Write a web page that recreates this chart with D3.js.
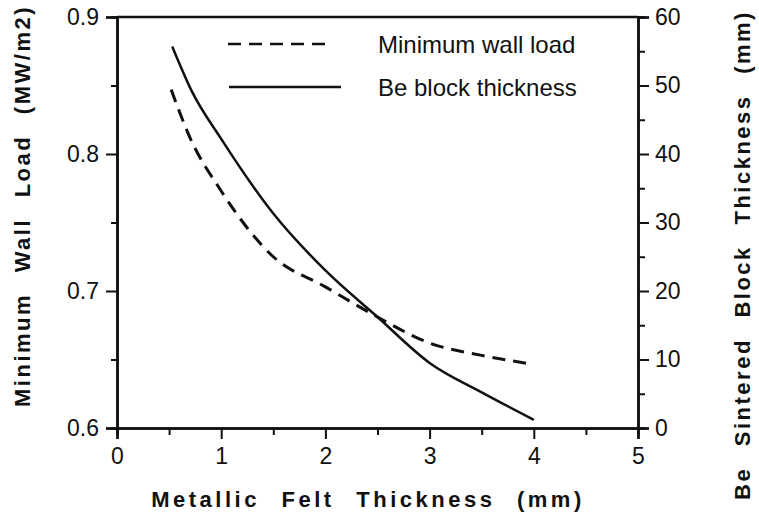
<!DOCTYPE html>
<html>
<head>
<meta charset="utf-8">
<script src="https://cdn.jsdelivr.net/npm/d3@7"></script>
<style>
  body { margin: 0; background: #fff; }
  text { font-family: "Liberation Sans", Arial, Helvetica, sans-serif; fill: #111; }
</style>
</head>
<body>
<div id="chart"></div>
<script>
// felt thickness (mm) vs. minimum wall load (MW/m2), left axis
const feltLoad = [0.52, 0.7, 1.0, 1.5, 2.0, 2.5, 3.0, 3.5, 3.95];
const wallLoad = [0.847, 0.812, 0.773, 0.725, 0.703, 0.681, 0.662, 0.653, 0.647];

// felt thickness (mm) vs. Be block thickness (mm), right axis
const feltBe = [0.53, 0.72, 1.0, 1.5, 2.0, 2.5, 3.0, 3.5, 4.0];
const beThick = [55.7, 49.1, 42.2, 31.3, 23.0, 16.2, 9.5, 5.2, 1.2];

const xTicks = [0, 1, 2, 3, 4, 5];
const leftTicks = [0.6, 0.7, 0.8, 0.9];
const rightTicks = [0, 10, 20, 30, 40, 50, 60];

const legendNames = ['Minimum wall load', 'Be block thickness'];

const [svgWidth, svgHeight] = [759, 525];
const margin = { left: 117, right: 121, top: 17, bottom: 97 };
const [width, height] = [svgWidth - margin.left - margin.right, svgHeight - margin.top - margin.bottom];

function translate(x, y) {
    return 'translate(' + x + ',' + y + ')';
}

let svg = d3.select('#chart').append('svg')
    .attr('width', svgWidth)
    .attr('height', svgHeight);

let xScale = d3.scaleLinear().domain([0, 5]).range([0, width]);
let yLeft = d3.scaleLinear().domain([0.6, 0.9]).range([height, 0]);
let yRight = d3.scaleLinear().domain([0, 60]).range([height, 0]);

let plot = svg.append('g').attr('transform', translate(margin.left, margin.top));

// minor ticks first, then major axes on top
const minorX = d3.range(0.5, 5, 1);
const minorL = [0.65, 0.75, 0.85];
const minorR = d3.range(5, 60, 10);

function styleAxis(g, fs) {
    g.selectAll('.domain').attr('stroke', '#111').attr('stroke-width', 2.5);
    g.selectAll('.tick line').attr('stroke', '#111').attr('stroke-width', 2);
    g.selectAll('.tick text').style('font-size', fs + 'px').attr('fill', '#111');
}

plot.append('g').attr('transform', translate(0, height))
    .call(d3.axisBottom(xScale).tickValues(minorX).tickSize(7).tickFormat(''))
    .call(g => styleAxis(g, 23));
plot.append('g')
    .call(d3.axisLeft(yLeft).tickValues(minorL).tickSize(6).tickFormat(''))
    .call(g => styleAxis(g, 23));
plot.append('g').attr('transform', translate(width, 0))
    .call(d3.axisRight(yRight).tickValues(minorR).tickSize(7).tickFormat(''))
    .call(g => styleAxis(g, 23));

let xAxis = plot.append('g').attr('transform', translate(0, height))
    .call(d3.axisBottom(xScale).tickValues(xTicks).tickSize(11).tickPadding(9).tickFormat(d3.format('d')));
styleAxis(xAxis, 23);

let leftAxis = plot.append('g')
    .call(d3.axisLeft(yLeft).tickValues(leftTicks).tickSize(11).tickPadding(7).tickFormat(d3.format('.1f')));
styleAxis(leftAxis, 23);

let rightAxis = plot.append('g').attr('transform', translate(width, 0))
    .call(d3.axisRight(yRight).tickValues(rightTicks).tickSize(11).tickPadding(6).tickFormat(d3.format('d')));
styleAxis(rightAxis, 23);

// top frame line
plot.append('line')
    .attr('x1', 0).attr('x2', width).attr('y1', 0).attr('y2', 0)
    .attr('stroke', '#111').attr('stroke-width', 2.5);

// curves
let lineLoad = d3.line()
    .x((d, i) => xScale(feltLoad[i]))
    .y(d => yLeft(d))
    .curve(d3.curveMonotoneX);
let lineBe = d3.line()
    .x((d, i) => xScale(feltBe[i]))
    .y(d => yRight(d))
    .curve(d3.curveMonotoneX);

plot.append('path')
    .datum(wallLoad)
    .attr('d', lineLoad)
    .style('fill', 'none')
    .style('stroke', '#111')
    .style('stroke-width', 3)
    .style('stroke-dasharray', '13,8');

plot.append('path')
    .datum(beThick)
    .attr('d', lineBe)
    .style('fill', 'none')
    .style('stroke', '#111')
    .style('stroke-width', 2.5);

// legend
let legend = svg.append('g');
const legendDash = ['13,8', null];
const legendLine = [[228, 330, 44], [229, 341, 87]];
legendNames.forEach((name, i) => {
    legend.append('line')
        .attr('x1', legendLine[i][0]).attr('x2', legendLine[i][1])
        .attr('y1', legendLine[i][2]).attr('y2', legendLine[i][2])
        .attr('stroke', '#111').attr('stroke-width', 2.5)
        .style('stroke-dasharray', legendDash[i]);
    legend.append('text')
        .attr('x', 378).attr('y', legendLine[i][2] + 9)
        .style('font-size', '24px')
        .text(name);
});

// axis titles
const titleStyle = sel => sel
    .style('font-size', '22px')
    .style('font-weight', 'bold')
    .style('letter-spacing', '3.5px')
    .style('word-spacing', '12px');

svg.append('text')
    .attr('x', 368).attr('y', 507)
    .attr('text-anchor', 'middle')
    .call(titleStyle)
    .text('Metallic Felt Thickness (mm)');

svg.append('text')
    .attr('transform', translate(30, 206) + ' rotate(-90)')
    .attr('text-anchor', 'middle')
    .call(titleStyle)
    .style('letter-spacing', '2.5px')
    .text('Minimum Wall Load (MW/m2)');

svg.append('text')
    .attr('transform', translate(750, 255) + ' rotate(-90)')
    .attr('text-anchor', 'middle')
    .call(titleStyle)
    .style('letter-spacing', '2.5px')
    .text('Be Sintered Block Thickness (mm)');
</script>
</body>
</html>
